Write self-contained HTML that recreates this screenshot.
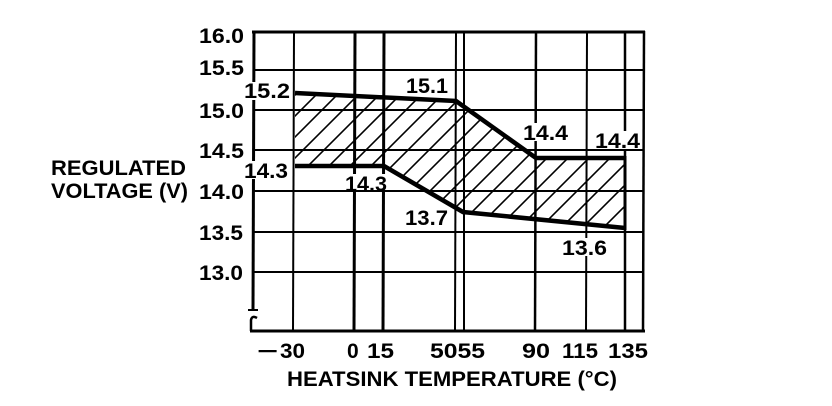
<!DOCTYPE html>
<html>
<head>
<meta charset="utf-8">
<style>
  html, body { margin: 0; padding: 0; background: #fff; }
  svg { display: block; }
  text { font-family: "Liberation Sans", "DejaVu Sans", sans-serif; font-weight: bold; fill: #000; }
</style>
</head>
<body>
<svg width="832" height="406" viewBox="0 0 832 406" xmlns="http://www.w3.org/2000/svg">
  <defs>
    <clipPath id="band">
      <polygon points="295,93 456,101 536,158 625,158 625,228 463,212 384,166 295,166"/>
    </clipPath>
  </defs>
  <rect width="832" height="406" fill="#fff"/>

  <!-- horizontal grid -->
  <g stroke="#000" stroke-width="2">
    <line x1="253" y1="70" x2="644" y2="70"/>
    <line x1="253" y1="110" x2="644" y2="110"/>
    <line x1="253" y1="150" x2="644" y2="150"/>
    <line x1="253" y1="191" x2="644" y2="191"/>
    <line x1="253" y1="232" x2="644" y2="232"/>
    <line x1="253" y1="272" x2="644" y2="272"/>
  </g>
  <!-- vertical grid -->
  <g stroke="#000">
    <line x1="294" y1="32" x2="293" y2="331" stroke-width="2"/>
    <line x1="355" y1="32" x2="354" y2="331" stroke-width="3"/>
    <line x1="384" y1="32" x2="383" y2="331" stroke-width="3"/>
    <line x1="456" y1="32" x2="455" y2="331" stroke-width="2"/>
    <line x1="464" y1="32" x2="464" y2="331" stroke-width="2"/>
    <line x1="536" y1="32" x2="535" y2="331" stroke-width="2.5"/>
    <line x1="587" y1="32" x2="586" y2="331" stroke-width="2"/>
    <line x1="625" y1="32" x2="625" y2="331" stroke-width="2.5"/>
  </g>

  <!-- hatch -->
  <g clip-path="url(#band)" stroke="#000" stroke-width="1.6">
    <line x1="150" y1="240" x2="300" y2="90"/>
    <line x1="171" y1="240" x2="321" y2="90"/>
    <line x1="192" y1="240" x2="342" y2="90"/>
    <line x1="213" y1="240" x2="363" y2="90"/>
    <line x1="234" y1="240" x2="384" y2="90"/>
    <line x1="255" y1="240" x2="405" y2="90"/>
    <line x1="276" y1="240" x2="426" y2="90"/>
    <line x1="297" y1="240" x2="447" y2="90"/>
    <line x1="318" y1="240" x2="468" y2="90"/>
    <line x1="339" y1="240" x2="489" y2="90"/>
    <line x1="360" y1="240" x2="510" y2="90"/>
    <line x1="381" y1="240" x2="531" y2="90"/>
    <line x1="402" y1="240" x2="552" y2="90"/>
    <line x1="423" y1="240" x2="573" y2="90"/>
    <line x1="444" y1="240" x2="594" y2="90"/>
    <line x1="465" y1="240" x2="615" y2="90"/>
    <line x1="486" y1="240" x2="636" y2="90"/>
    <line x1="507" y1="240" x2="657" y2="90"/>
    <line x1="528" y1="240" x2="678" y2="90"/>
    <line x1="549" y1="240" x2="699" y2="90"/>
    <line x1="570" y1="240" x2="720" y2="90"/>
    <line x1="591" y1="240" x2="741" y2="90"/>
    <line x1="612" y1="240" x2="762" y2="90"/>
  </g>

  <!-- frame -->
  <g stroke="#000" fill="none">
    <line x1="252" y1="32" x2="645" y2="32" stroke-width="3"/>
    <line x1="644" y1="31" x2="643" y2="332" stroke-width="2.5"/>
    <line x1="250" y1="331" x2="645" y2="331" stroke-width="3"/>
    <line x1="254" y1="31" x2="253" y2="310" stroke-width="3"/>
    <line x1="248" y1="310" x2="258" y2="310" stroke-width="2"/>
    <path d="M257,318 Q252,315 251,320 L251,331" stroke-width="2.5"/>
  </g>

  <!-- data curves -->
  <g stroke="#000" fill="none" stroke-width="4.5" stroke-linejoin="miter">
    <polyline points="295,93 456,101 536,158 625,158"/>
    <polyline points="295,166 384,166 463,212 625,228"/>
  </g>
  <line x1="625" y1="156" x2="625" y2="230" stroke="#000" stroke-width="3"/>

  <!-- label backgrounds -->
  <g fill="#fff">
    <rect x="242" y="82" width="49" height="18"/>
    <rect x="242" y="161" width="48" height="18"/>
    <rect x="343" y="174" width="48" height="16"/>
    <rect x="521" y="123" width="49" height="18"/>
    <rect x="593" y="131" width="48" height="18"/>
    <rect x="560" y="238" width="49" height="18"/>
  </g>

  <!-- y tick labels -->
  <g font-size="21">
    <text x="199" y="43" textLength="45" lengthAdjust="spacingAndGlyphs">16.0</text>
    <text x="199" y="75" textLength="45" lengthAdjust="spacingAndGlyphs">15.5</text>
    <text x="199" y="118" textLength="45" lengthAdjust="spacingAndGlyphs">15.0</text>
    <text x="199" y="158" textLength="45" lengthAdjust="spacingAndGlyphs">14.5</text>
    <text x="199" y="199" textLength="45" lengthAdjust="spacingAndGlyphs">14.0</text>
    <text x="199" y="240" textLength="44" lengthAdjust="spacingAndGlyphs">13.5</text>
    <text x="199" y="280" textLength="44" lengthAdjust="spacingAndGlyphs">13.0</text>
  </g>

  <!-- axis titles -->
  <g font-size="21">
    <text x="51" y="175" textLength="135" lengthAdjust="spacingAndGlyphs">REGULATED</text>
    <text x="51" y="198" textLength="137" lengthAdjust="spacingAndGlyphs">VOLTAGE (V)</text>
    <text x="287" y="386" textLength="330" lengthAdjust="spacingAndGlyphs">HEATSINK TEMPERATURE (°C)</text>
  </g>

  <!-- x tick labels -->
  <g font-size="21">
    <text x="257" y="358" textLength="21" lengthAdjust="spacingAndGlyphs">−</text>
    <text x="280" y="358" textLength="25" lengthAdjust="spacingAndGlyphs">30</text>
    <text x="347" y="358">0</text>
    <text x="367" y="358" textLength="27" lengthAdjust="spacingAndGlyphs">15</text>
    <text x="430" y="358" textLength="55" lengthAdjust="spacingAndGlyphs">5055</text>
    <text x="522" y="358" textLength="28" lengthAdjust="spacingAndGlyphs">90</text>
    <text x="562" y="358" textLength="36" lengthAdjust="spacingAndGlyphs">115</text>
    <text x="608" y="358" textLength="40" lengthAdjust="spacingAndGlyphs">135</text>
  </g>

  <!-- data labels -->
  <g font-size="21">
    <text x="244" y="98" textLength="46" lengthAdjust="spacingAndGlyphs">15.2</text>
    <text x="244" y="178" textLength="44" lengthAdjust="spacingAndGlyphs">14.3</text>
    <text x="406" y="93" textLength="42" lengthAdjust="spacingAndGlyphs">15.1</text>
    <text x="345" y="191" textLength="42" lengthAdjust="spacingAndGlyphs">14.3</text>
    <text x="405" y="225" textLength="43" lengthAdjust="spacingAndGlyphs">13.7</text>
    <text x="523" y="140" textLength="45" lengthAdjust="spacingAndGlyphs">14.4</text>
    <text x="595" y="148" textLength="45" lengthAdjust="spacingAndGlyphs">14.4</text>
    <text x="562" y="255" textLength="45" lengthAdjust="spacingAndGlyphs">13.6</text>
  </g>
</svg>
</body>
</html>
